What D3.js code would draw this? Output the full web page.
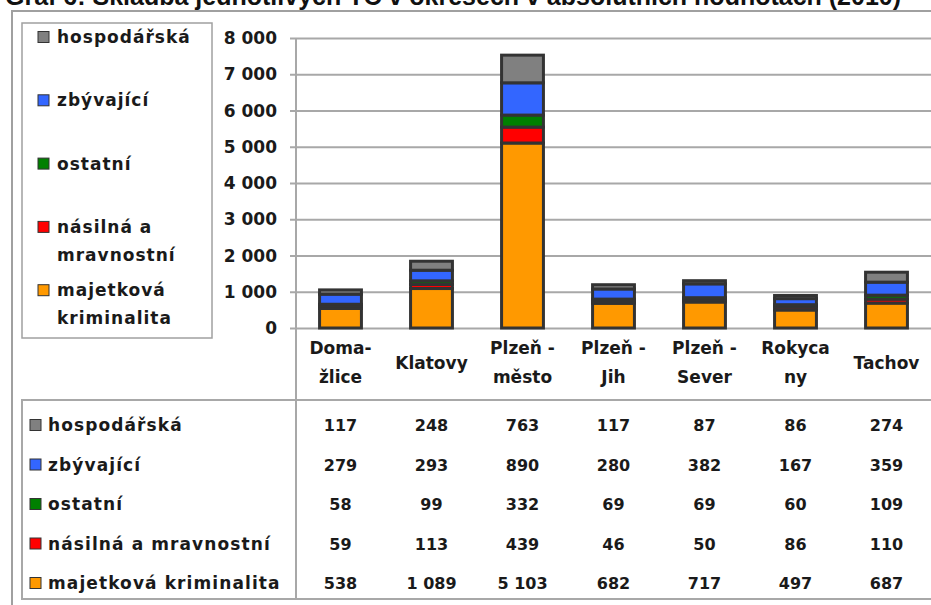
<!DOCTYPE html>
<html>
<head>
<meta charset="utf-8">
<script src="https://cdn.jsdelivr.net/npm/d3@7"></script>
<style>
  body { margin: 0; background: #fff; }
  svg text { font-family: "DejaVu Sans", sans-serif; font-weight: bold; fill: #1a1a1a; }
</style>
</head>
<body>
<div id="chart"></div>
<script>
// districts (line breaks as in the original axis)
var categories = ["Doma-\nžlice", "Klatovy", "Plzeň -\nměsto", "Plzeň -\nJih", "Plzeň -\nSever", "Rokyca\nny", "Tachov"];

// series, bottom of stack first
var seriesNames = ["majetková kriminalita", "násilná a mravnostní", "ostatní", "zbývající", "hospodářská"];
var legendLines = [["majetková", "kriminalita"], ["násilná a", "mravnostní"], ["ostatní"], ["zbývající"], ["hospodářská"]];
var seriesColors = ["#ff9900", "#ff0000", "#008000", "#3366ff", "#808080"];

var majetkova = [538, 1089, 5103, 682, 717, 497, 687];
var nasilna   = [59, 113, 439, 46, 50, 86, 110];
var ostatni   = [58, 99, 332, 69, 69, 60, 109];
var zbyvajici = [279, 293, 890, 280, 382, 167, 359];
var hospodar  = [117, 248, 763, 117, 87, 86, 274];

var yTicks = [0, 1000, 2000, 3000, 4000, 5000, 6000, 7000, 8000];
var title = "Graf 6: Skladba jednotlivých TČ v okresech v absolutních hodnotách (2010)";

var W = 931, H = 605;
var allSeries = [majetkova, nasilna, ostatni, zbyvajici, hospodar];

var rows = categories.map(function(c, i) {
    var r = { cat: c };
    seriesNames.forEach(function(s, k) { r[s] = allSeries[k][i]; });
    return r;
});

var cz = d3.formatLocale({ decimal: ",", thousands: " ", grouping: [3], currency: ["", ""] });
var fmt = cz.format(",");

var svg = d3.select("#chart").append("svg")
    .attr("width", W)
    .attr("height", H);

// title, cut off at the top like the source
svg.append("text")
    .attr("x", 5).attr("y", 5)
    .style("font-family", "'Liberation Sans', Arial, sans-serif")
    .style("font-size", "25px")
    .style("fill", "#111")
    .text(title);

// outer frame
svg.append("path")
    .attr("d", "M12," + H + "V11H" + W)
    .attr("fill", "none").attr("stroke", "#a0a0a0").attr("stroke-width", 2);

var x = d3.scaleBand().domain(categories).range([295, 932]).paddingInner(0.54).paddingOuter(0.27);
var y = d3.scaleLinear().domain([0, 8000]).range([328, 38]);

// gridlines + ticks
svg.append("g")
    .attr("transform", "translate(296,0)")
    .call(d3.axisLeft(y).tickValues(yTicks).tickSize(-(W - 296)).tickSizeOuter(0).tickFormat(""))
    .call(function(g) {
        g.select(".domain").remove();
        g.selectAll(".tick line").attr("x1", -6).attr("stroke", "#a8a8a8").attr("stroke-width", 2);
    });

svg.selectAll(".ylab").data(yTicks).enter().append("text")
    .attr("class", "ylab")
    .attr("x", 277)
    .attr("y", function(d) { return y(d) + 6; })
    .attr("text-anchor", "end")
    .style("font-size", "17px")
    .text(function(d) { return fmt(d); });

// vertical axis line, running down through the table
svg.append("line")
    .attr("x1", 296).attr("x2", 296).attr("y1", 38).attr("y2", 600)
    .attr("stroke", "#a8a8a8").attr("stroke-width", 2);

// stacked bars
var stack = d3.stack().keys(seriesNames)(rows);
svg.append("g").selectAll("g").data(stack).enter().append("g")
    .attr("fill", function(d, i) { return seriesColors[i]; })
    .selectAll("rect").data(function(d) { return d; }).enter().append("rect")
        .attr("x", function(d) { return x(d.data.cat); })
        .attr("width", x.bandwidth())
        .attr("y", function(d) { return y(d[1]); })
        .attr("height", function(d) { return y(d[0]) - y(d[1]); })
        .attr("stroke", "#333")
        .attr("stroke-width", 3);

// category labels
var catG = svg.selectAll(".cat").data(categories).enter().append("text")
    .attr("class", "cat")
    .attr("text-anchor", "middle")
    .style("font-size", "17px");
catG.each(function(c) {
    var parts = c.split("\n");
    var cx = x(c) + x.bandwidth() / 2;
    var t = d3.select(this);
    var y0 = parts.length === 1 ? 369 : 354;
    parts.forEach(function(p, k) {
        t.append("tspan").attr("x", cx).attr("y", y0 + k * 29).text(p);
    });
});

// legend box
svg.append("rect")
    .attr("x", 22).attr("y", 23).attr("width", 190).attr("height", 315)
    .attr("fill", "#fff").attr("stroke", "#a0a0a0").attr("stroke-width", 1.5);

var legendOrder = d3.range(seriesNames.length).reverse();
var leg = svg.selectAll(".leg").data(legendOrder).enter().append("g")
    .attr("class", "leg")
    .attr("transform", function(k, i) { return "translate(0," + (37 + i * 63.3) + ")"; });
leg.append("rect")
    .attr("x", 38).attr("y", -5.5).attr("width", 11).attr("height", 11)
    .attr("fill", function(k) { return seriesColors[k]; })
    .attr("stroke", "#333").attr("stroke-width", 1);
leg.append("text")
    .attr("x", 57)
    .style("font-size", "17px")
    .style("letter-spacing", "1px")
    .each(function(k) {
        var t = d3.select(this);
        legendLines[k].forEach(function(p, j) {
            t.append("tspan").attr("x", 57).attr("y", 6 + j * 28).text(p);
        });
    });

// data table
svg.append("path")
    .attr("d", "M" + W + ",400H22V599H" + W)
    .attr("fill", "none").attr("stroke", "#a8a8a8").attr("stroke-width", 2);

var trow = svg.selectAll(".trow").data(legendOrder).enter().append("g")
    .attr("class", "trow")
    .attr("transform", function(k, i) { return "translate(0," + (425 + i * 39.5) + ")"; });
trow.append("rect")
    .attr("x", 30).attr("y", -5.5).attr("width", 11).attr("height", 11)
    .attr("fill", function(k) { return seriesColors[k]; })
    .attr("stroke", "#333").attr("stroke-width", 1);
trow.append("text")
    .attr("x", 48).attr("y", 6)
    .style("font-size", "17px")
    .style("letter-spacing", "1.1px")
    .text(function(k) { return seriesNames[k]; });
trow.selectAll(".val").data(function(k) {
        return allSeries[k].map(function(v, i) { return { v: v, cat: categories[i] }; });
    }).enter().append("text")
    .attr("class", "val")
    .attr("x", function(d) { return x(d.cat) + x.bandwidth() / 2; })
    .attr("y", 6)
    .attr("text-anchor", "middle")
    .style("font-size", "16px")
    .text(function(d) { return fmt(d.v); });
</script>
</body>
</html>
